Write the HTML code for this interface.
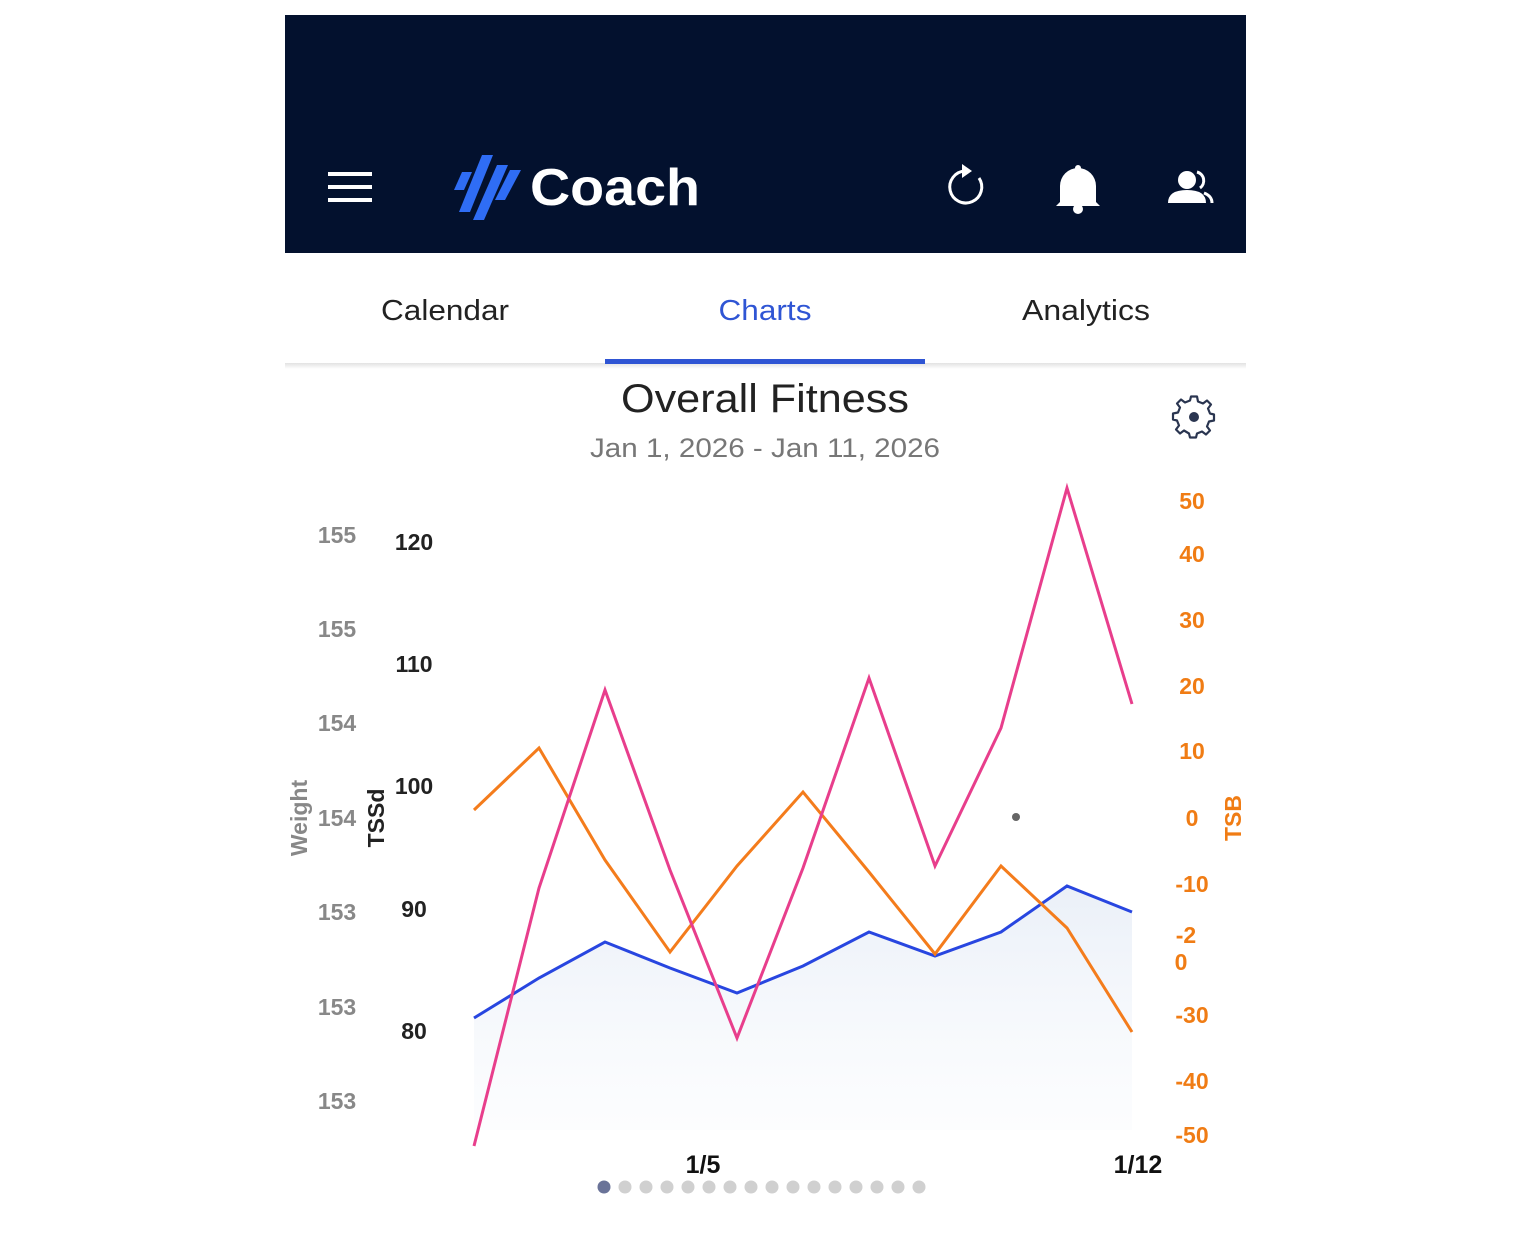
<!DOCTYPE html>
<html><head><meta charset="utf-8"><style>
html,body{margin:0;padding:0;background:#fff;}
body{width:1531px;height:1231px;overflow:hidden;}
</style></head><body>
<svg width="1531" height="1231" xmlns="http://www.w3.org/2000/svg" font-family="Liberation Sans, sans-serif">
<defs>
<linearGradient id="g" x1="0" y1="0" x2="0" y2="1">
<stop offset="0" stop-color="#e8eef7" stop-opacity="0.9"/>
<stop offset="1" stop-color="#f5f8fc" stop-opacity="0.3"/>
</linearGradient>
<linearGradient id="sh" x1="0" y1="0" x2="0" y2="1">
<stop offset="0" stop-color="#e2e2e2"/><stop offset="1" stop-color="#fff"/>
</linearGradient>
</defs>
<rect x="285" y="15" width="961" height="238" fill="#03112e"/>
<g stroke="#fff" stroke-width="4">
<line x1="328" y1="174" x2="372" y2="174"/><line x1="328" y1="187" x2="372" y2="187"/><line x1="328" y1="200" x2="372" y2="200"/>
</g>
<g fill="#2f6df5">
<polygon points="462,172 472,172 464,190 454,190"/>
<polygon points="482,155 493,155 470,212 459,212"/>
<polygon points="497,165 508,165 484,220 473,220"/>
<polygon points="510,170 521,170 505,200 495,200"/>
</g>
<text x="530" y="205" fill="#fff" font-size="52" font-weight="bold" textLength="170" lengthAdjust="spacingAndGlyphs">Coach</text>
<path d="M979,178 A16,16 0 1 1 965,171" fill="none" stroke="#fff" stroke-width="3"/>
<polygon points="962,164 972,171 962,178" fill="#fff"/>
<path d="M1060,202 L1060,186 A18,18 0 0 1 1096,186 L1096,202 L1100,206 L1056,206 Z" fill="#fff"/>
<circle cx="1078" cy="209" r="5" fill="#fff"/><circle cx="1078" cy="168" r="3" fill="#fff"/>
<circle cx="1187" cy="180" r="9" fill="#fff"/>
<path d="M1168,203 Q1168,190 1187,190 Q1206,190 1206,203 Z" fill="#fff"/>
<path d="M1197,172 A9,9 0 0 1 1200,188 M1204,193 Q1212,196 1212,203" fill="none" stroke="#fff" stroke-width="3"/>
<text x="445" y="320" font-size="29" fill="#222" text-anchor="middle" textLength="128" lengthAdjust="spacingAndGlyphs">Calendar</text>
<text x="765" y="320" font-size="29" fill="#2f55d4" text-anchor="middle" textLength="93" lengthAdjust="spacingAndGlyphs">Charts</text>
<text x="1086" y="320" font-size="29" fill="#222" text-anchor="middle" textLength="128" lengthAdjust="spacingAndGlyphs">Analytics</text>
<rect x="285" y="363" width="961" height="6" fill="url(#sh)"/>
<rect x="605" y="359" width="320" height="5" fill="#2f55d4"/>
<text x="765" y="412" font-size="40" fill="#222" text-anchor="middle" textLength="288" lengthAdjust="spacingAndGlyphs">Overall Fitness</text>
<text x="765" y="457" font-size="27" fill="#777" text-anchor="middle" textLength="350" lengthAdjust="spacingAndGlyphs">Jan 1, 2026 - Jan 11, 2026</text>
<g transform="translate(1194,417)" fill="none" stroke="#2a3550" stroke-width="2.2" stroke-linejoin="round">
<path d="M-3,-19 L3,-19 L4,-14 L9,-12 L13,-15 L17,-11 L14,-7 L16,-2 L20,-1 L20,5 L15,6 L13,11 L16,15 L12,19 L8,16 L3,18 L2,22 L-4,22 L-5,18 L-10,15 L-14,18 L-18,14 L-15,10 L-17,5 L-21,4 L-21,-2 L-16,-3 L-14,-8 L-17,-12 L-13,-16 L-9,-13 L-4,-15 Z" transform="translate(0,-1.5)"/>
</g>
<circle cx="1194" cy="417" r="5" fill="#2a3550"/>
<g font-size="23" fill="#888" font-weight="bold" text-anchor="middle">
<text x="337" y="543">155</text><text x="337" y="637">155</text><text x="337" y="731">154</text><text x="337" y="826">154</text><text x="337" y="920">153</text><text x="337" y="1015">153</text><text x="337" y="1109">153</text>
</g>
<text transform="translate(307,818) rotate(-90)" font-size="23" fill="#888" font-weight="bold" text-anchor="middle">Weight</text>
<g font-size="23" fill="#222" font-weight="bold" text-anchor="middle">
<text x="414" y="550">120</text><text x="414" y="672">110</text><text x="414" y="794">100</text><text x="414" y="917">90</text><text x="414" y="1039">80</text>
</g>
<text transform="translate(384,818) rotate(-90)" font-size="23" fill="#222" font-weight="bold" text-anchor="middle">TSSd</text>
<g font-size="23" fill="#f07c14" font-weight="bold" text-anchor="middle">
<text x="1192" y="509">50</text><text x="1192" y="562">40</text><text x="1192" y="628">30</text><text x="1192" y="694">20</text><text x="1192" y="759">10</text><text x="1192" y="826">0</text><text x="1192" y="892">-10</text><text x="1186" y="943">-2</text><text x="1181" y="970">0</text><text x="1192" y="1023">-30</text><text x="1192" y="1089">-40</text><text x="1192" y="1143">-50</text>
</g>
<text transform="translate(1241,818) rotate(-90)" font-size="23" fill="#f07c14" font-weight="bold" text-anchor="middle">TSB</text>
<polygon fill="url(#g)" points="474,1018 539,978 605,942 670,968 737,993 803,966 869,932 935,956 1001,932 1067,886 1132,912 1132,1130 474,1130"/>
<polyline fill="none" stroke="#2846e0" stroke-width="3" points="474,1018 539,978 605,942 670,968 737,993 803,966 869,932 935,956 1001,932 1067,886 1132,912"/>
<polyline fill="none" stroke="#f47c1c" stroke-width="3" points="474,810 539,748 605,860 670,952 737,866 803,792 869,872 935,954 1001,866 1067,928 1132,1032"/>
<polyline fill="none" stroke="#e83e8c" stroke-width="3" points="474,1146 539,888 605,690 670,870 737,1038 803,868 869,678 935,866 1001,728 1067,488 1132,704"/>
<circle cx="1016" cy="817" r="4" fill="#666"/>
<text x="703" y="1173" font-size="25" font-weight="bold" fill="#111" text-anchor="middle">1/5</text>
<text x="1138" y="1173" font-size="25" font-weight="bold" fill="#111" text-anchor="middle">1/12</text>
<g fill="#d0d0d0">
<circle cx="625" cy="1187" r="6.5"/><circle cx="646" cy="1187" r="6.5"/><circle cx="667" cy="1187" r="6.5"/><circle cx="688" cy="1187" r="6.5"/><circle cx="709" cy="1187" r="6.5"/><circle cx="730" cy="1187" r="6.5"/><circle cx="751" cy="1187" r="6.5"/><circle cx="772" cy="1187" r="6.5"/><circle cx="793" cy="1187" r="6.5"/><circle cx="814" cy="1187" r="6.5"/><circle cx="835" cy="1187" r="6.5"/><circle cx="856" cy="1187" r="6.5"/><circle cx="877" cy="1187" r="6.5"/><circle cx="898" cy="1187" r="6.5"/><circle cx="919" cy="1187" r="6.5"/>
</g>
<circle cx="604" cy="1187" r="6.5" fill="#6a7398"/>
</svg>
</body></html>
